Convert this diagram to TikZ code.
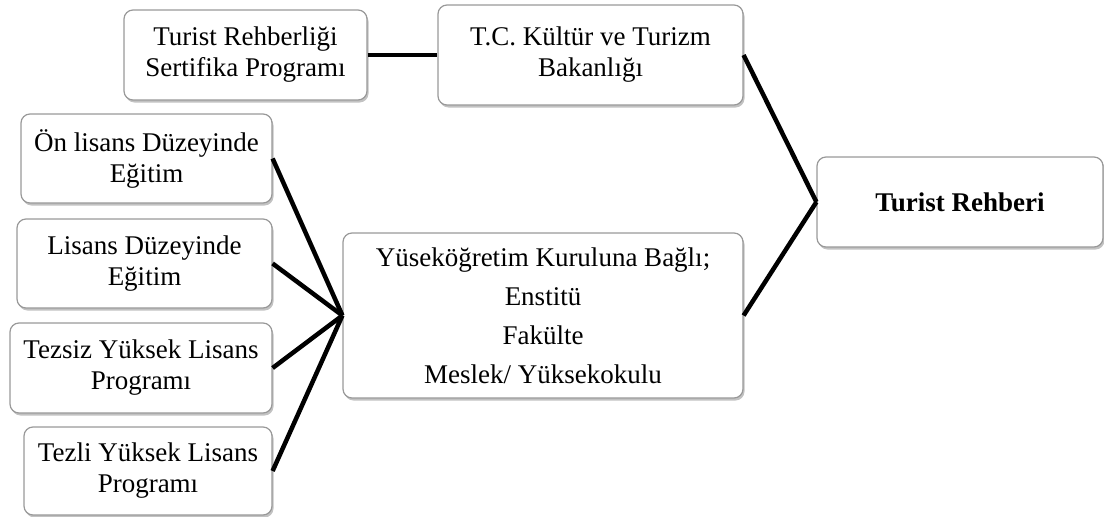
\documentclass[tikz,border=0pt]{standalone}
\usepackage{fontspec}
\setmainfont{Liberation Serif}
\usetikzlibrary{shadows}
\begin{document}
\begin{tikzpicture}[x=1pt,y=-1pt,
  box/.style={draw=black!40, line width=1.2pt, rounded corners=9pt, fill=white,
    align=center, inner sep=0pt, font=\fontsize{27}{31}\selectfont,
    drop shadow={shadow xshift=1.5pt, shadow yshift=-2.5pt, opacity=0.4, fill=black!60}},
  link/.style={line width=4.5pt}]
\useasboundingbox (0,0) rectangle (1104,517);
\node[box, minimum width=243pt, minimum height=90pt] (A) at (245.5,55) {Turist Rehberliği\\Sertifika Programı};
\node[box, minimum width=305pt, minimum height=100pt] (B) at (590.5,55) {T.C. Kültür ve Turizm\\Bakanlığı};
\node[box, minimum width=251pt, minimum height=89pt] (C) at (146.5,158.5) {Ön lisans Düzeyinde\\Eğitim};
\node[box, minimum width=255pt, minimum height=89pt] (D) at (144.5,263.5) {Lisans Düzeyinde\\Eğitim};
\node[box, minimum width=262pt, minimum height=90pt] (E) at (141,368) {Tezsiz Yüksek Lisans\\Programı};
\node[box, minimum width=248pt, minimum height=88pt] (F) at (148,471) {Tezli Yüksek Lisans\\Programı};
\node[box, minimum width=400pt, minimum height=165pt, font=\fontsize{27}{39}\selectfont] (G) at (543,315.5) {Yüseköğretim Kuruluna Bağlı;\\Enstitü\\Fakülte\\Meslek/ Yüksekokulu};
\node[box, minimum width=286pt, minimum height=90pt, font=\fontsize{27}{31}\selectfont\bfseries] (H) at (960,202) {Turist Rehberi};
\draw[link] (A.east) -- (B.west);
\draw[link] (B.east) -- (H.west);
\draw[link] (G.east) -- (H.west);
\draw[link] (C.east) -- (G.west);
\draw[link] (D.east) -- (G.west);
\draw[link] (E.east) -- (G.west);
\draw[link] (F.east) -- (G.west);
\end{tikzpicture}
\end{document}
